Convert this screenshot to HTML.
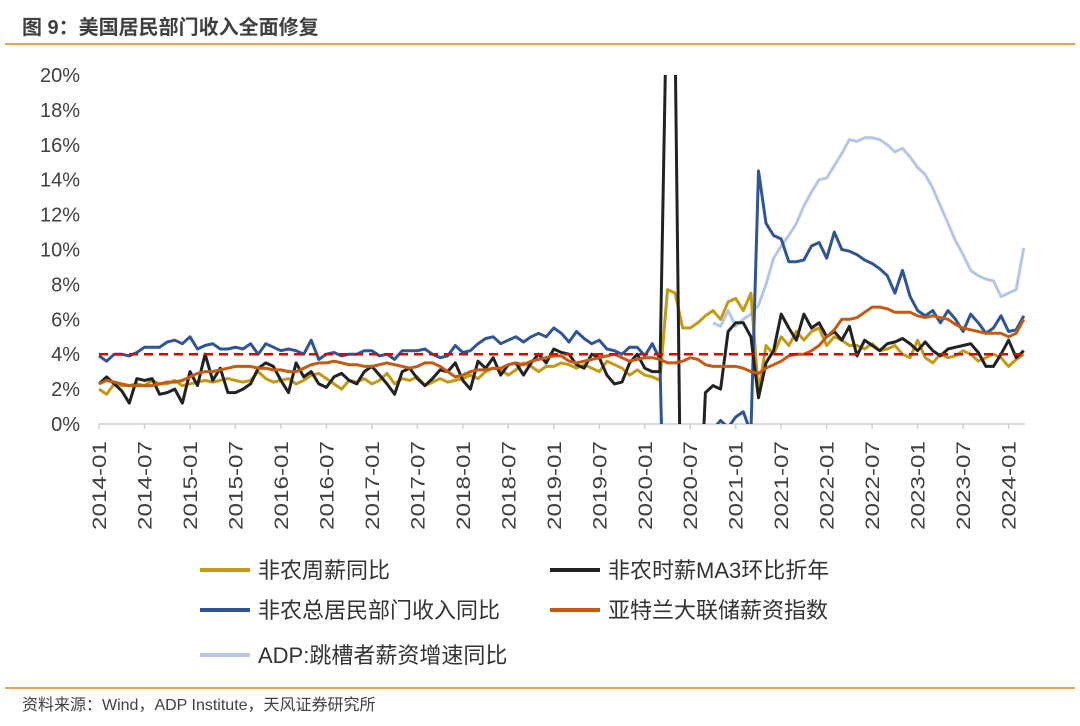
<!DOCTYPE html>
<html><head><meta charset="utf-8">
<style>
body{margin:0;background:#fff;width:1080px;height:726px;overflow:hidden;font-family:"Liberation Sans","Noto Sans CJK SC",sans-serif;}
svg{position:absolute;left:0;top:0}
</style></head>
<body>
<svg id="c" width="1080" height="726">
<text x="22" y="34" font-size="20" font-weight="bold" fill="#404040" font-family="Liberation Sans, Noto Sans CJK SC, sans-serif">图 9：美国居民部门收入全面修复</text>
<line x1="5" y1="44" x2="1075" y2="44" stroke="#f0a050" stroke-width="2"/>
<line x1="5" y1="688" x2="1075" y2="688" stroke="#f0a050" stroke-width="2"/>
<text x="22" y="710" font-size="16" fill="#404040" font-family="Liberation Sans, Noto Sans CJK SC, sans-serif">资料来源：Wind，ADP Institute，天风证券研究所</text>
<g id="g"></g>
</svg>
<script>
const yTicks=[0,2,4,6,8,10,12,14,16,18,20];
const gold=[2.0,1.7,2.3,2.2,2.2,2.3,2.2,2.5,2.3,2.3,2.5,2.2,
2.3,2.4,2.5,2.4,2.5,2.6,2.5,2.4,2.5,3.0,2.6,2.4,
2.5,2.6,2.3,2.5,2.8,2.9,2.6,2.3,2.0,2.5,2.4,2.6,
2.3,2.5,2.9,2.3,2.6,2.5,2.7,2.2,2.4,2.6,2.4,2.5,
2.6,2.8,2.6,3.0,3.2,3.1,2.8,3.1,3.5,3.3,3.0,3.3,
3.3,3.5,3.4,3.2,3.4,3.2,3.0,3.6,3.4,3.2,2.8,3.1,
2.8,2.7,2.5,7.7,7.5,5.5,5.5,5.8,6.2,6.5,6.0,7.0,
7.2,6.5,7.5,1.8,4.5,4.0,5.0,4.5,5.3,4.8,5.3,5.5,
4.5,5.0,4.8,4.5,4.5,4.3,4.6,4.2,4.3,4.5,4.0,3.8,
4.8,3.8,3.5,4.0,3.8,3.9,4.2,4.0,3.6,3.8,4.0,3.8,
3.3,3.7,4.0];
const black=[2.3,2.7,2.3,1.9,1.2,2.6,2.5,2.6,1.7,1.8,2.0,1.2,
3.0,2.2,4.0,2.5,3.2,1.8,1.8,2.0,2.3,3.2,3.5,3.3,
2.5,1.8,3.5,2.7,3.0,2.3,2.1,2.7,2.9,2.5,2.3,3.0,
3.3,2.8,2.3,1.7,3.0,3.2,2.6,2.2,2.6,3.1,3.0,3.5,
2.5,2.0,3.6,3.2,3.8,2.8,3.4,3.5,2.8,3.5,4.0,3.5,
4.3,4.1,4.0,3.4,3.2,4.0,3.8,2.8,2.3,2.4,3.5,4.0,
3.2,3.0,3.0,27,22,-15,-15,-8,1.8,2.2,2.0,5.3,
5.8,5.8,5.0,1.5,3.5,4.2,6.3,5.5,4.8,6.3,5.5,5.8,
5.0,5.3,4.8,5.6,3.9,4.8,4.5,4.2,4.6,4.7,4.9,4.6,
4.2,4.7,4.2,3.9,4.3,4.4,4.5,4.6,4.1,3.3,3.3,4.0,
4.8,3.8,4.2];
const blue=[3.9,3.6,4.0,4.0,3.9,4.1,4.4,4.4,4.4,4.7,4.8,4.6,
5.0,4.3,4.5,4.6,4.3,4.3,4.4,4.3,4.6,4.0,4.6,4.4,
4.2,4.3,4.2,4.0,4.8,3.7,4.0,4.1,3.9,4.0,4.0,4.2,
4.2,3.9,4.0,3.7,4.2,4.2,4.2,4.3,4.0,3.8,3.9,4.5,
4.1,4.2,4.6,4.9,5.0,4.6,4.8,5.0,4.7,5.0,5.2,5.0,
5.5,5.2,4.7,5.3,4.9,4.6,4.8,4.3,4.2,4.0,4.4,4.4,
3.9,4.6,3.7,-15,-10,-8,-6,-3,-1,-0.3,0.2,-0.2,
0.4,0.7,-0.5,14.5,11.5,10.8,10.6,9.3,9.3,9.4,10.2,10.4,
9.5,11.0,10.0,9.9,9.7,9.4,9.2,8.9,8.5,7.5,8.8,7.3,
6.5,6.2,6.5,5.8,6.5,6.0,5.3,6.3,5.8,5.2,5.5,6.2,
5.3,5.4,6.2];
const orange=[2.3,2.5,2.4,2.3,2.2,2.2,2.2,2.2,2.3,2.4,2.4,2.5,
2.7,2.9,3.0,3.0,3.1,3.2,3.3,3.3,3.3,3.2,3.2,3.1,
3.1,3.0,3.0,3.2,3.4,3.5,3.5,3.6,3.5,3.4,3.4,3.3,
3.3,3.4,3.5,3.4,3.3,3.2,3.3,3.5,3.5,3.3,3.0,2.7,
2.8,3.0,3.1,3.1,3.2,3.2,3.4,3.5,3.4,3.6,3.7,3.8,
3.9,3.9,3.6,3.5,3.6,3.7,3.8,3.9,4.0,3.8,3.6,3.7,
3.8,3.8,3.7,3.5,3.5,3.6,3.8,3.7,3.4,3.3,3.3,3.3,
3.3,3.2,3.0,2.9,3.2,3.4,3.6,3.9,4.0,4.0,4.2,4.5,
5.0,5.4,6.0,6.0,6.1,6.4,6.7,6.7,6.6,6.4,6.4,6.4,
6.2,6.1,6.2,6.1,6.0,5.7,5.5,5.4,5.3,5.2,5.2,5.2,
5.0,5.2,6.0];
const adpStart=81;
const adp=[5.8,5.6,6.5,
5.6,6.0,6.3,6.8,8.0,9.5,10.2,10.8,11.5,12.5,13.3,14.0,
14.1,14.8,15.5,16.3,16.2,16.4,16.4,16.3,16.0,15.6,15.8,15.3,
14.7,14.3,13.5,12.5,11.5,10.5,9.7,8.8,8.5,8.3,8.2,7.3,
7.5,7.7,10.1];
const refLine=4;
const tickLabels=[];
for(let y=2014;y<=2024;y++){tickLabels.push(y+'-01');if(y<2024)tickLabels.push(y+'-07');}

const NS='http://www.w3.org/2000/svg';
const g=document.getElementById('g');
const X0=99,DX=7.58,Y0=424,DY=17.45;
const xS=i=>X0+i*DX, yS=v=>Y0-v*DY;
function el(t,a,p){const e=document.createElementNS(NS,t);for(const k in a)e.setAttribute(k,a[k]);(p||g).appendChild(e);return e;}
const defs=el('defs',{});
const cp=el('clipPath',{id:'clip'},defs);
el('rect',{x:90,y:yS(20),width:950,height:Y0-yS(20)},cp);

yTicks.forEach(v=>{
 const t=el('text',{x:80,y:yS(v)+7,'text-anchor':'end','font-size':20,fill:'#404040'});
 
 
 t.textContent=v+'%';
});
const ax=el('line',{x1:X0,y1:Y0,x2:1025,y2:Y0,stroke:'#d0d0d0','stroke-width':1.5});


tickLabels.forEach((s,k)=>{
 const x=xS(k*6);
 const tk=el('line',{x1:x,y1:Y0,x2:x,y2:Y0+5,stroke:'#d0d0d0','stroke-width':1.5});
 
 
 const t=el('text',{x:0,y:0,'text-anchor':'end','font-size':19.5,fill:'#404040',textLength:89,lengthAdjust:'spacingAndGlyphs',transform:`translate(${x+7},${Y0+17}) rotate(-90)`});
 
 
 t.textContent=s;
});
const lg=el('g',{'clip-path':'url(#clip)'});
function series(arr,start,color,name){
 const d=arr.map((v,i)=>(i?'L':'M')+xS(i+start).toFixed(1)+','+yS(v).toFixed(1)).join('');
 const p=el('path',{d:d,fill:'none',stroke:color,'stroke-width':3,'stroke-linejoin':'round'},lg);
 
 
}
series(adp,adpStart,'#b4c7e7','line-adp-job-changers');
series(gold,0,'#c39a12','line-weekly-earnings');
series(blue,0,'#2f5597','line-personal-income');
series(black,0,'#222222','line-hourly-earnings-ma3');
series(orange,0,'#c55a11','line-atlanta-wage-tracker');
const rl=el('line',{x1:X0,y1:yS(refLine),x2:1022,y2:yS(refLine),stroke:'#e00000','stroke-width':2.5,'stroke-dasharray':'9,6'});



const legend=[['#c39a12','非农周薪同比',200,570],['#222222','非农时薪MA3环比折年',550,570],['#2f5597','非农总居民部门收入同比',200,610],['#c55a11','亚特兰大联储薪资指数',550,610],['#b4c7e7','ADP:跳槽者薪资增速同比',200,655]];
legend.forEach(l=>{
 const gg=el('g',{});
 
 
 el('line',{x1:l[2],y1:l[3],x2:l[2]+50,y2:l[3],stroke:l[0],'stroke-width':4},gg);
 const t=el('text',{x:l[2]+58,y:l[3]+8,'font-size':22,fill:'#333'},gg);
 t.textContent=l[1];
});
</script>
</body></html>
